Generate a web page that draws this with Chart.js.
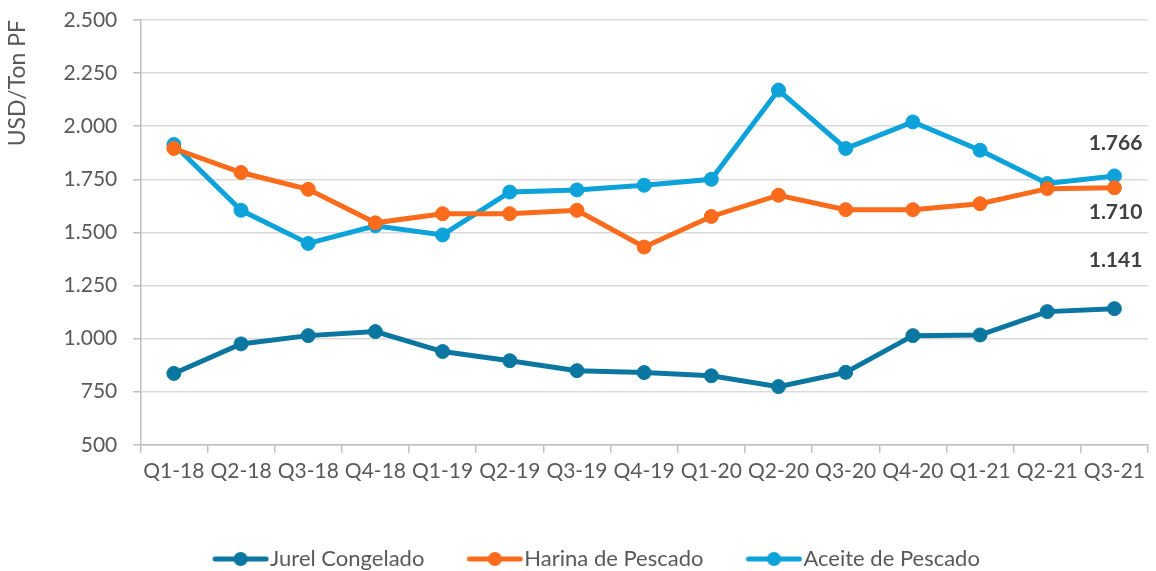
<!DOCTYPE html>
<html>
<head>
<meta charset="utf-8">
<script src="https://cdn.jsdelivr.net/npm/chart.js@4.4.1/dist/chart.umd.min.js"></script>
<style>
    html, body { margin: 0; padding: 0; background: #fff; }
    #wrap { width: 1156px; height: 571px; }
</style>
</head>
<body>
<div id="wrap"><canvas id="chart"></canvas></div>
<script>
const quarters = ['Q1-18', 'Q2-18', 'Q3-18', 'Q4-18', 'Q1-19', 'Q2-19', 'Q3-19', 'Q4-19',
    'Q1-20', 'Q2-20', 'Q3-20', 'Q4-20', 'Q1-21', 'Q2-21', 'Q3-21'];
const jurel = [836, 975, 1014, 1033, 939, 896, 849, 840, 825, 774, 841, 1014, 1017, 1127, 1141];
const harina = [1895, 1782, 1703, 1545, 1588, 1588, 1604, 1431, 1575, 1675, 1607, 1607, 1635, 1706, 1710];
const aceite = [1914, 1604, 1448, 1531, 1488, 1690, 1700, 1722, 1750, 2170, 1895, 2020, 1887, 1730, 1766];
const yTicks = [500, 750, 1000, 1250, 1500, 1750, 2000, 2250, 2500];

const colors = {
    jurel: '#0B77A0',
    harina: '#FA6C1C',
    aceite: '#0DA3DA'
};

const ICON_GAP = 30;   // empty space left of each legend icon
const ICON_W = 57;
const BOX_W = ICON_GAP + ICON_W;

function fmt(v) {
    return String(v).replace(/\B(?=(\d{3})+(?!\d))/g, '.');
}

// legend marker: short line with a dot, pushed right so it touches the text
function legendIcon(color) {
    const c = document.createElement('canvas');
    c.width = BOX_W + 20;
    c.height = 16;
    const ctx = c.getContext('2d');
    const x0 = ICON_GAP + 20;
    ctx.strokeStyle = color;
    ctx.lineWidth = 5;
    ctx.lineCap = 'round';
    ctx.beginPath();
    ctx.moveTo(x0 + 3, 8);
    ctx.lineTo(x0 + ICON_W - 3, 8);
    ctx.stroke();
    ctx.fillStyle = color;
    ctx.beginPath();
    ctx.arc(x0 + ICON_W / 2, 8, 7, 0, Math.PI * 2);
    ctx.fill();
    return c;
}

// value labels on the last point of each series
const lastLabels = {
    id: 'lastLabels',
    afterDatasetsDraw(chart) {
        const ctx = chart.ctx;
        ctx.save();
        ctx.font = 'bold 21px Lato';
        ctx.fillStyle = '#404040';
        ctx.textAlign = 'right';
        ctx.textBaseline = 'middle';
        chart.data.datasets.forEach((ds, i) => {
            const meta = chart.getDatasetMeta(i);
            const pt = meta.data[meta.data.length - 1];
            const v = ds.data[ds.data.length - 1];
            ctx.fillText(fmt(v), pt.x + 28, pt.y + ds.labelDy);
        });
        ctx.restore();
    }
};

Chart.defaults.font.family = 'Lato';
Chart.defaults.color = '#595959';

new Chart(document.getElementById('chart'), {
    type: 'line',
    data: {
        labels: quarters,
        datasets: [
            {
                label: 'Jurel Congelado',
                data: jurel,
                borderColor: colors.jurel,
                backgroundColor: colors.jurel,
                labelDy: -48
            },
            {
                label: 'Harina de Pescado',
                data: harina,
                borderColor: colors.harina,
                backgroundColor: colors.harina,
                labelDy: 24
            },
            {
                label: 'Aceite de Pescado',
                data: aceite,
                borderColor: colors.aceite,
                backgroundColor: colors.aceite,
                labelDy: -33
            }
        ]
    },
    options: {
        responsive: true,
        maintainAspectRatio: false,
        animation: false,
        layout: {
            padding: { top: 20, right: 8, left: 4, bottom: -9 }
        },
        elements: {
            line: { borderWidth: 5, tension: 0 },
            point: { radius: 7, hoverRadius: 7, pointStyle: 'circle' }
        },
        plugins: {
            legend: {
                position: 'bottom',
                labels: {
                    usePointStyle: true,
                    pointStyleWidth: BOX_W,
                    font: { size: 22 },
                    color: '#595959',
                    padding: 2,
                    generateLabels: function (chart) {
                        return chart.data.datasets.map((ds, i) => ({
                            text: ds.label,
                            pointStyle: legendIcon(ds.borderColor),
                            fillStyle: ds.borderColor,
                            strokeStyle: ds.borderColor,
                            fontColor: '#595959',
                            lineWidth: 0,
                            datasetIndex: i
                        }));
                    }
                }
            },
            tooltip: { enabled: false }
        },
        scales: {
            x: {
                offset: true,
                afterFit: function (axis) {
                    axis.height += 56;
                },
                grid: {
                    offset: true,
                    drawOnChartArea: false,
                    drawTicks: true,
                    tickLength: 8,
                    color: '#BFBFBF',
                    lineWidth: 1.5
                },
                border: { color: '#BFBFBF', width: 1.5 },
                ticks: {
                    font: { size: 21 },
                    color: '#595959',
                    maxRotation: 0,
                    autoSkip: false,
                    padding: 6
                }
            },
            y: {
                min: 500,
                max: 2500,
                afterBuildTicks: function (axis) {
                    axis.ticks = yTicks.map(v => ({ value: v }));
                },
                afterFit: function (axis) {
                    axis.paddingTop = 0;
                    axis.paddingBottom = 0;
                },
                grid: {
                    color: '#D9D9D9',
                    lineWidth: 1.5,
                    tickLength: 7,
                    tickColor: '#BFBFBF'
                },
                border: { color: '#BFBFBF', width: 1.5 },
                title: {
                    display: true,
                    text: 'USD/Ton PF',
                    align: 'end',
                    font: { size: 23 },
                    color: '#595959',
                    padding: { top: 0, bottom: 16 }
                },
                ticks: {
                    font: { size: 21 },
                    color: '#595959',
                    padding: 16,
                    callback: function (value) {
                        return fmt(value);
                    }
                }
            }
        }
    },
    plugins: [lastLabels]
});
</script>
</body>
</html>
